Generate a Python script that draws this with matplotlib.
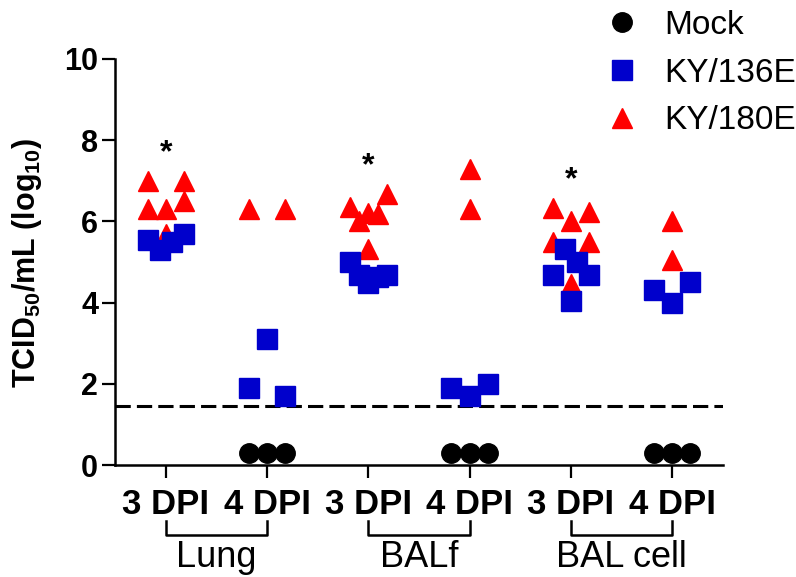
import numpy as np
import matplotlib
matplotlib.use("Agg")
from matplotlib import pyplot as plt
import matplotlib.transforms as mtransforms

plt.rcParams["font.family"] = ["Liberation Sans", "DejaVu Sans"]
plt.rcParams["mathtext.fontset"] = "custom"
plt.rcParams["mathtext.rm"] = "Liberation Sans"
plt.rcParams["mathtext.bf"] = "Liberation Sans:bold"

conditions = ["3 DPI", "4 DPI", "3 DPI", "4 DPI", "3 DPI", "4 DPI"]
tissues = ["Lung", "BALf", "BAL cell"]
series_names = ["Mock", "KY/136E", "KY/180E"]

# log10 TCID50/mL per condition, listed left to right as the points sit
mock = [[], [0.3, 0.3, 0.3], [], [0.3, 0.3, 0.3], [], [0.3, 0.3, 0.3]]
ky136 = [[5.54, 5.3, 5.5, 5.7], [1.9, 3.1, 1.7],
         [5.0, 4.67, 4.47, 4.63, 4.67], [1.9, 1.7, 2.0],
         [4.68, 5.33, 4.05, 5.0, 4.68], [4.3, 4.0, 4.5]]
ky180 = [[7.0, 5.7, 6.31, 6.31, 6.49, 7.0], [6.3, 6.3],
         [6.35, 6.0, 6.2, 6.19, 6.68, 5.33], [7.3, 6.3],
         [6.33, 5.5, 6.0, 4.45, 5.5, 6.22], [6.0, 5.05]]
signif = [True, False, True, False, True, False]
detection_limit = 1.45


def spread(vals, gap=0.42, half=0.18):
    # scatter-dot layout: values close together share a row and are spread sideways
    vals = np.asarray(vals, float)
    order = np.argsort(-vals, kind="stable")
    rows, cur = [], [order[0]]
    for a, b in zip(order[:-1], order[1:]):
        if vals[a] - vals[b] > gap:
            rows.append(cur)
            cur = [b]
        else:
            cur.append(b)
    rows.append(cur)
    dx = np.zeros(len(vals))
    for r in rows:
        r = sorted(r)
        if len(r) > 1:
            dx[r] = np.linspace(-half, half, len(r))
    return dx


fig = plt.figure(figsize=(7.96, 5.77), dpi=100)
ax = fig.add_axes([0.145, 0.194, 0.763, 0.704])

handles = {}
styles = [(mock, "black", "o", 4, "Mock"), (ky136, "#0000cc", "s", 3, "KY/136E"),
          (ky180, "#ff0000", "^", 2, "KY/180E")]
for data, color, marker, z, name in styles:
    xs, ys = [], []
    for i, v in enumerate(data):
        if v:
            xs.extend(i + spread(v))
            ys.extend(v)
    h, = ax.plot(xs, ys, linestyle="none", marker=marker, ms=14, color=color,
                 mec=color, zorder=z, clip_on=False, label=name)
    handles[name] = h

ax.axhline(detection_limit, color="black", lw=2.2, linestyle=(0, (5, 2)), zorder=1)

for i, s in enumerate(signif):
    if s:
        top = max(max(d[i]) for d in (mock, ky136, ky180) if d[i])
        ax.text(i, top + 0.68, "*", ha="center", va="center", fontsize=23,
                fontweight="bold")

ax.set_xlim(-0.5, 5.5)
ax.set_ylim(0, 10)
ax.set_yticks([0, 2, 4, 6, 8, 10])
ax.set_xticks(range(len(conditions)))
ax.set_xticklabels(conditions)
for s in ["top", "right"]:
    ax.spines[s].set_visible(False)
for s in ["left", "bottom"]:
    ax.spines[s].set_linewidth(1.8)
ax.tick_params(axis="both", length=9.5, width=1.6, labelsize=22, pad=3)
ax.tick_params(axis="x", pad=7, labelsize=25)
for lab in ax.get_xticklabels() + ax.get_yticklabels():
    lab.set_fontweight("bold")

fig.text(27 / 796, 1 - 263 / 577,
         r"TCID$_{\mathbf{50}}$/mL (log$_{\mathbf{10}}$)",
         rotation=90, ha="center", va="center", fontsize=22, fontweight="bold")

trans = mtransforms.blended_transform_factory(ax.transData, ax.transAxes)
for g, name in enumerate(tissues):
    x0, x1 = 2 * g, 2 * g + 1
    ax.plot([x0, x0, x1, x1], [-0.138, -0.172, -0.172, -0.138], color="black",
            lw=1.8, transform=trans, clip_on=False)
    ax.text((x0 + x1) / 2, -0.228, name, transform=trans, ha="center",
            va="center", fontsize=26)

fig.legend([handles[n] for n in series_names], series_names, loc="upper left",
           bbox_to_anchor=(0.746, 1.006), frameon=False, fontsize=24,
           handlelength=0.9, handletextpad=0.8, labelspacing=0.5,
           borderaxespad=0.0)

fig.savefig("out.png", dpi=100)
